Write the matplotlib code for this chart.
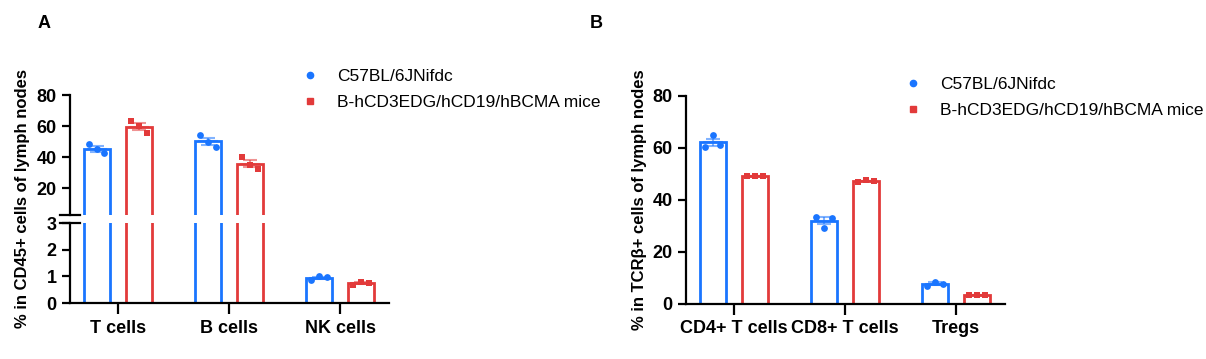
import numpy as np
import matplotlib
matplotlib.use("Agg")
import matplotlib.pyplot as plt
from matplotlib.lines import Line2D

plt.rcParams['font.family'] = ['Liberation Sans', 'DejaVu Sans']

# data (three mice per group)
groups = ["C57BL/6JNifdc", "B-hCD3EDG/hCD19/hBCMA mice"]

cats_a = ["T cells", "B cells", "NK cells"]
wt_a = [[48.5, 45.0, 42.5], [54.0, 50.0, 46.5], [0.86, 1.00, 0.98]]
hu_a = [[63.4, 60.0, 55.4], [40.0, 34.6, 32.2], [0.67, 0.79, 0.76]]

cats_b = ["CD4+ T cells", "CD8+ T cells", "Tregs"]
wt_b = [[60.4, 64.9, 61.0], [33.5, 29.2, 32.8], [7.0, 8.5, 7.7]]
hu_b = [[49.0, 49.3, 49.1], [47.0, 47.5, 47.2], [3.4, 3.3, 3.2]]

BLUE = "#1a75ff"
RED = "#e23a3a"
W, H = 1206, 359
OFF = 0.19
BW = 0.235
JIT = [-0.07, 0.0, 0.07]


def draw_group(ax, vals, color, marker, shift, ymin=None, ymax=None):
    for i, pts in enumerate(vals):
        pts = np.array(pts)
        m = pts.mean()
        sem = pts.std(ddof=1) / np.sqrt(len(pts))
        x = i + shift
        ax.bar(x, m, width=BW, facecolor="white", edgecolor=color, linewidth=2.0, zorder=2)
        # marks that belong to the other half of a broken axis are skipped
        if ymin is not None and m < ymin:
            continue
        if ymax is not None and m > ymax:
            continue
        ax.errorbar(x, m, yerr=sem, color=color, alpha=0.55, capsize=5, capthick=1.5,
                    elinewidth=1.5, zorder=3)
        ax.plot([x - 0.08, x + 0.08], [m, m], color=color, alpha=0.55, lw=1.5, zorder=3)
        ax.scatter(x + np.array(JIT), pts, color=color, marker=marker, s=24,
                   linewidths=0, zorder=4)


def style(ax):
    for s in ["top", "right"]:
        ax.spines[s].set_visible(False)
    for s in ["left", "bottom"]:
        ax.spines[s].set_linewidth(1.6)
    ax.tick_params(width=1.6, length=6, labelsize=13)
    ax.tick_params(axis="x", length=8, pad=4)
    for lab in ax.get_yticklabels() + ax.get_xticklabels():
        lab.set_fontweight("bold")


def pos(left, top, right, bottom):
    return [left / W, 1 - bottom / H, (right - left) / W, (bottom - top) / H]


fig = plt.figure(figsize=(W / 100, H / 100), dpi=100)

# panel A, broken y axis
ax_top = fig.add_axes(pos(70, 95, 389, 214.5))
ax_bot = fig.add_axes(pos(70, 223.3, 389, 303))
draw_group(ax_top, wt_a, BLUE, "o", -OFF, ymin=3)
draw_group(ax_top, hu_a, RED, "s", OFF, ymin=3)
draw_group(ax_bot, wt_a, BLUE, "o", -OFF, ymax=3)
draw_group(ax_bot, hu_a, RED, "s", OFF, ymax=3)
for ax in (ax_top, ax_bot):
    ax.set_xlim(-0.43, 2.44)
ax_top.set_ylim(3, 80)
ax_top.set_yticks([20, 40, 60, 80])
ax_top.set_xticks([])
ax_top.spines["bottom"].set_visible(False)
ax_bot.set_ylim(0, 3)
ax_bot.set_yticks([0, 1, 2, 3])
ax_bot.set_xticks(range(len(cats_a)))
ax_bot.set_xticklabels(cats_a)
style(ax_top)
style(ax_bot)
# break marks on the y axis
ax_top.plot([-0.03, 0.03], [0, 0], transform=ax_top.transAxes, color="black",
            lw=1.6, clip_on=False)
ax_bot.plot([-0.03, 0.03], [1, 1], transform=ax_bot.transAxes, color="black",
            lw=1.6, clip_on=False)
fig.text(23 / W, 1 - 198 / H, "% in CD45+ cells of lymph nodes", rotation=90,
         ha="center", va="center", fontsize=12, fontweight="bold")

# panel B
ax_b = fig.add_axes(pos(686, 95.7, 1005, 303.7))
draw_group(ax_b, wt_b, BLUE, "o", -OFF)
draw_group(ax_b, hu_b, RED, "s", OFF)
ax_b.set_xlim(-0.43, 2.44)
ax_b.set_ylim(0, 80)
ax_b.set_yticks([0, 20, 40, 60, 80])
ax_b.set_xticks(range(len(cats_b)))
ax_b.set_xticklabels(cats_b)
style(ax_b)
ax_b.set_ylabel("% in TCRβ+ cells of lymph nodes", fontsize=12, fontweight="bold",
                labelpad=4)

# legends
handles = [Line2D([], [], color=BLUE, marker="o", ls="", markersize=4.5),
           Line2D([], [], color=RED, marker="s", ls="", markersize=4.5)]
for x0, y0 in [(301, 68.5), (904, 76.5)]:
    fig.legend(handles, groups, loc="upper left", bbox_to_anchor=(x0 / W, 1 - y0 / H),
               frameon=False, fontsize=12.5, handlelength=1.0, handletextpad=1.1,
               labelspacing=0.66, borderpad=0, borderaxespad=0)

fig.text(38 / W, 1 - 23 / H, "A", fontsize=13, fontweight="bold", va="center")
fig.text(590 / W, 1 - 23 / H, "B", fontsize=13, fontweight="bold", va="center")

fig.savefig("out.png", dpi=100)
